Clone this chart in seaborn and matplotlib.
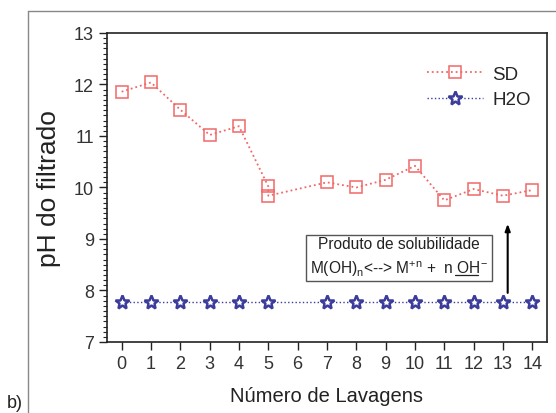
import numpy as np
import pandas as pd
import matplotlib
matplotlib.use('Agg')
import matplotlib.pyplot as plt
from matplotlib.lines import Line2D
from matplotlib.ticker import MultipleLocator
import seaborn as sns

# Data
lavagens_sd = [0, 1, 2, 3, 4, 5, 5, 7, 8, 9, 10, 11, 12, 13, 14]
ph_sd = [11.86, 12.04, 11.51, 11.02, 11.19, 10.02, 9.84, 10.10, 10.00, 10.15, 10.42, 9.75, 9.97, 9.84, 9.95]
lavagens_h2o = [0, 1, 2, 3, 4, 5, 7, 8, 9, 10, 11, 12, 13, 14]
ph_h2o = [7.78] * len(lavagens_h2o)
xticks = list(range(0, 15))
yticks = list(range(7, 14))

sd_df = pd.DataFrame({'Lavagens': lavagens_sd, 'pH': ph_sd})
h2o_df = pd.DataFrame({'Lavagens': lavagens_h2o, 'pH': ph_h2o})

sns.set_style('ticks')
plt.rcParams['font.family'] = ['Liberation Sans', 'DejaVu Sans']
plt.rcParams['mathtext.fontset'] = 'custom'
plt.rcParams['mathtext.rm'] = 'Liberation Sans'
plt.rcParams['mathtext.it'] = 'Liberation Sans:italic'

fig = plt.figure(figsize=(5.56, 4.14), dpi=100)
ax = fig.add_axes([0.1924, 0.1715, 0.7914, 0.7464])

sd_color = '#f06868'
h2o_color = '#3c3c9c'

sns.lineplot(data=sd_df, x='Lavagens', y='pH', ax=ax, estimator=None, sort=False,
             color=sd_color, linestyle=':', linewidth=1.3, marker='s', markersize=9,
             markerfacecolor='none', markeredgecolor=sd_color, markeredgewidth=1.1,
             label='SD')
sns.lineplot(data=h2o_df, x='Lavagens', y='pH', ax=ax, estimator=None, sort=False,
             color=h2o_color, linestyle=':', linewidth=1.0, marker='*', markersize=10.5,
             markerfacecolor='white', markeredgecolor=h2o_color, markeredgewidth=1.8,
             label='H2O')

ax.set_xlim(-0.5, 14.5)
ax.set_ylim(7, 13)
ax.set_xticks(xticks)
ax.set_yticks(yticks)
ax.yaxis.set_minor_locator(MultipleLocator(0.1))
ax.tick_params(axis='both', which='major', direction='out', length=6, width=1,
               labelsize=13, labelcolor='#333333', color='#222222')
ax.tick_params(axis='y', which='minor', direction='out', length=3, width=0.8)
for s in ax.spines.values():
    s.set_visible(True)
    s.set_linewidth(1.2)
    s.set_color('#222222')

ax.set_xlabel('Número de Lavagens', fontsize=14.5, labelpad=10, color='#222222')
ax.set_ylabel('pH do filtrado', fontsize=19, labelpad=9, color='#222222')

ax.legend(loc='upper left', frameon=False, fontsize=13.5, handlelength=3.0,
          handletextpad=0.5, borderpad=0, bbox_to_anchor=(0.705, 0.925), labelspacing=0.45)

line1 = 'Produto de solubilidade'
prefix = 'M(OH)$_\\mathregular{n}$<--> M$^\\mathregular{+n}$ +  n '
under = 'OH'
suffix = '$^\\mathregular{-}$'
box_fs = 11.2
box = ax.text(9.46, 8.65, line1 + '\n' + prefix + under + suffix,
              ha='center', va='center', fontsize=box_fs, color='#222222', linespacing=1.45,
              bbox=dict(boxstyle='square,pad=0.25', facecolor='white', edgecolor='#555555', linewidth=1))

# underline "OH" by measuring the text pieces
fig.canvas.draw()
renderer = fig.canvas.get_renderer()


def text_width(s):
    t = fig.text(0, 0, s, fontsize=box_fs)
    w = t.get_window_extent(renderer).width
    t.remove()
    return w


bb = box.get_window_extent(renderer)
w_line2 = text_width(prefix + under + suffix)
x0 = (bb.x0 + bb.x1) / 2 - w_line2 / 2 + text_width(prefix)
x1 = x0 + text_width(under)
y_ul = bb.y0 + 3
fig.add_artist(Line2D([x0 / fig.bbox.width, x1 / fig.bbox.width],
                      [y_ul / fig.bbox.height, y_ul / fig.bbox.height],
                      color='#222222', lw=0.9))

ax.annotate('', xy=(13.16, 9.35), xytext=(13.16, 7.9),
            arrowprops=dict(arrowstyle='-|>,head_length=0.4,head_width=0.15', color='black', lw=1.5))

# outer frame and panel label
fig.add_artist(Line2D([0.0504, 0.0504], [0.0, 0.971], color='#888888', lw=1))
fig.add_artist(Line2D([0.0504, 1.0], [0.971, 0.971], color='#888888', lw=1))
fig.text(0.012, 0.004, 'b)', fontsize=13, ha='left', va='bottom', color='#222222')

plt.savefig('out.png', dpi=100)
